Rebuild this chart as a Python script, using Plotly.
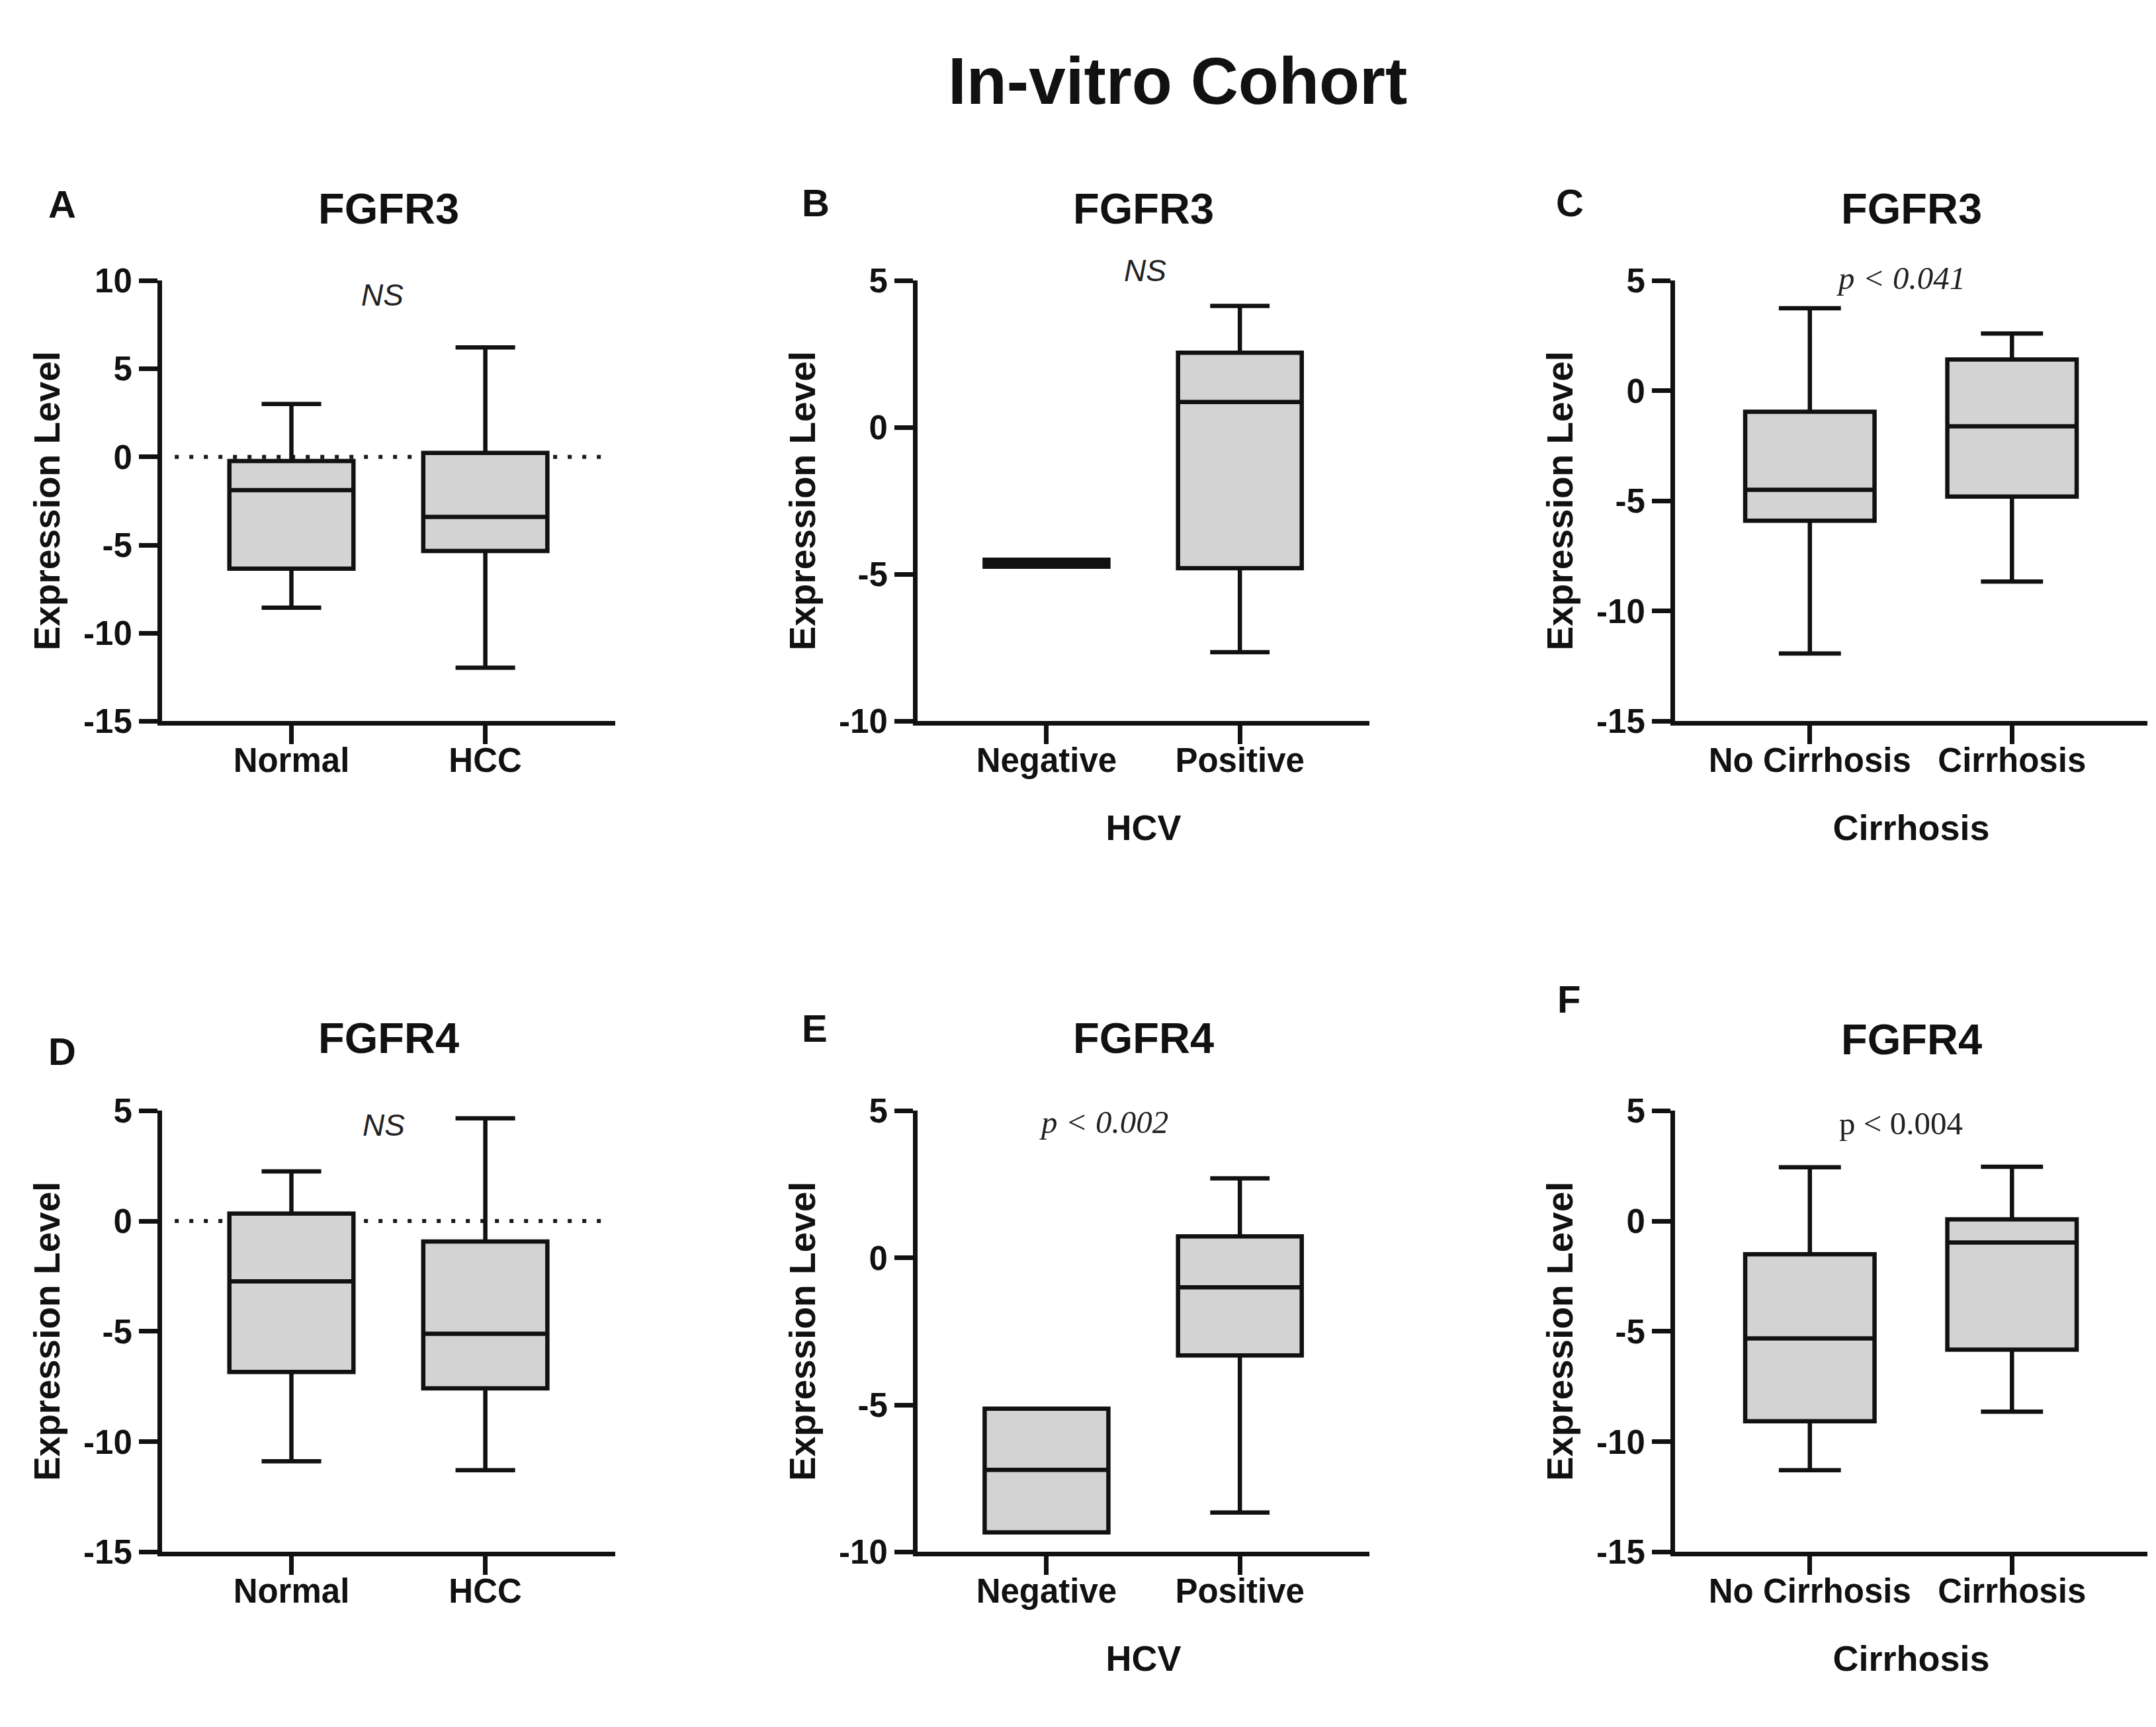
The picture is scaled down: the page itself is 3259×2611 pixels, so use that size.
import plotly.graph_objects as go
from plotly.subplots import make_subplots

W, H = 3259, 2611

# categories
tissue = ["Normal", "HCC"]
hcv = ["Negative", "Positive"]
cirrhosis = ["No Cirrhosis", "Cirrhosis"]

# box stats: low whisker, Q1, median, Q3, high whisker
a_low = [-8.56, -11.96]
a_q1 = [-6.34, -5.34]
a_med = [-1.88, -3.40]
a_q3 = [-0.23, 0.23]
a_high = [3.00, 6.21]

b_low = [-4.74, -7.65]
b_q1 = [-4.74, -4.79]
b_med = [-4.62, 0.87]
b_q3 = [-4.50, 2.55]
b_high = [-4.50, 4.14]

c_low = [-11.92, -8.66]
c_q1 = [-5.90, -4.80]
c_med = [-4.49, -1.61]
c_q3 = [-0.95, 1.42]
c_high = [3.75, 2.60]

d_low = [-10.89, -11.29]
d_q1 = [-6.84, -7.58]
d_med = [-2.73, -5.11]
d_q3 = [0.34, -0.93]
d_high = [2.25, 4.66]

e_low = [-9.33, -8.66]
e_q1 = [-9.33, -3.32]
e_med = [-7.21, -1.00]
e_q3 = [-5.13, 0.73]
e_high = [-5.13, 2.70]

f_low = [-11.29, -8.64]
f_q1 = [-9.07, -5.83]
f_med = [-5.32, -0.97]
f_q3 = [-1.50, 0.08]
f_high = [2.44, 2.46]

y_ranges = [[-15, 10], [-10, 5], [-15, 5], [-15, 5], [-10, 5], [-15, 5]]
panel_letters = ["A", "B", "C", "D", "E", "F"]
panel_genes = ["FGFR3", "FGFR3", "FGFR3", "FGFR4", "FGFR4", "FGFR4"]
x_titles = ["", "HCV", "Cirrhosis", "", "HCV", "Cirrhosis"]
y_title = "Expression Level"
stat_labels = ["NS", "NS", "p < 0.041", "NS", "p < 0.002", "p < 0.004"]
ref_zero = 0

panels = [
    (tissue, a_low, a_q1, a_med, a_q3, a_high),
    (hcv, b_low, b_q1, b_med, b_q3, b_high),
    (cirrhosis, c_low, c_q1, c_med, c_q3, c_high),
    (tissue, d_low, d_q1, d_med, d_q3, d_high),
    (hcv, e_low, e_q1, e_med, e_q3, e_high),
    (cirrhosis, f_low, f_q1, f_med, f_q3, f_high),
]

SANS = "Liberation Sans, Arial, sans-serif"
SERIF = "Liberation Serif, Times New Roman, serif"
INK = "#111111"

# plot areas in pixels
col_px = [(237, 922), (1379, 2062), (2524, 3238)]
row_px = [(397, 1078), (1680, 2362)]


def px(x):
    return x / W


def py(y):
    return 1 - y / H


fig = make_subplots(rows=2, cols=3)

for i, (cats, lo, q1, med, q3, hi) in enumerate(panels):
    r, c = i // 3 + 1, i % 3 + 1
    fig.add_trace(go.Box(
        x=cats, lowerfence=lo, q1=q1, median=med, q3=q3, upperfence=hi,
        width=0.64, whiskerwidth=0.48, fillcolor="#d3d3d3",
        line=dict(color=INK, width=6.5), boxpoints=False,
        showlegend=False, hoverinfo="skip"), row=r, col=c)
    x0, x1 = col_px[c - 1]
    y0, y1 = row_px[r - 1]
    lo_r, hi_r = y_ranges[i]
    tv = list(range(lo_r, hi_r + 1, 5))
    fig.update_xaxes(domain=[px(x0), px(x1)], type="category",
                     categoryorder="array", categoryarray=cats,
                     range=[-0.667, 1.67], showline=True, linewidth=7,
                     linecolor=INK, ticks="outside", ticklen=28,
                     tickwidth=7, tickcolor=INK, showgrid=False,
                     zeroline=False, ticklabelstandoff=-20,
                     tickfont=dict(family=SANS, size=51, color=INK, weight="bold"),
                     title=dict(text=x_titles[i], standoff=58,
                                font=dict(family=SANS, size=54, color=INK, weight="bold")),
                     row=r, col=c)
    fig.update_yaxes(domain=[py(y1), py(y0)], range=y_ranges[i],
                     tickvals=tv, ticktext=[str(v) for v in tv],
                     showline=True, linewidth=7, linecolor=INK,
                     ticks="outside", ticklen=28, tickwidth=7,
                     tickcolor=INK, showgrid=False, zeroline=False,
                     tickfont=dict(family=SANS, size=51, color=INK, weight="bold"),
                     row=r, col=c)

# dotted reference line at zero in the Normal vs HCC panels
for ax in ["", "4"]:
    fig.add_shape(type="line", xref="x" + ax + " domain", yref="y" + ax,
                  x0=0.028, x1=0.99, y0=ref_zero, y1=ref_zero, layer="below",
                  line=dict(color="#1a1a1a", width=6, dash="6px,16px"))

annotations = []
annotations.append(dict(text="<b>In-vitro Cohort</b>", x=px(1772), y=py(88),
                        font=dict(family=SANS, size=100, color=INK)))

letter_pos = [(86, 279), (1225, 277), (2365, 277), (86, 1588), (1223, 1552), (2363, 1507)]
gene_y = [286, 286, 286, 1568, 1568, 1570]
stat_pos = [(570, 419), (1723, 381), (2865, 393), (572, 1702), (1660, 1698), (2865, 1700)]

for i in range(6):
    r, c = i // 3, i % 3
    lx, ly = letter_pos[i]
    annotations.append(dict(text="<b>" + panel_letters[i] + "</b>", x=px(lx), y=py(ly),
                            font=dict(family=SANS, size=58, color=INK)))
    cx = (col_px[c][0] + col_px[c][1]) / 2
    annotations.append(dict(text="<b>" + panel_genes[i] + "</b>", x=px(cx), y=py(gene_y[i]),
                            font=dict(family=SANS, size=65, color=INK)))
    # y axis title, placed at a fixed distance left of the axis line
    cy = (row_px[r][0] + row_px[r][1]) / 2
    annotations.append(dict(text="<b>" + y_title + "</b>", x=px(col_px[c][0] - 174), y=py(cy),
                            textangle=-90, font=dict(family=SANS, size=55, color=INK)))
    sx, sy = stat_pos[i]
    label = stat_labels[i]
    if label == "NS":
        fnt = dict(family=SANS, size=46, color="#222222")
        label = "<i>" + label + "</i>"
    elif i == 5:
        fnt = dict(family=SERIF, size=49, color="#222222")
    else:
        fnt = dict(family=SERIF, size=49, color="#222222")
        label = "<i>" + label + "</i>"
    annotations.append(dict(text=label, x=px(sx), y=py(sy), font=fnt))

for a in annotations:
    a.update(xref="paper", yref="paper", showarrow=False, xanchor="center", yanchor="middle")

fig.update_layout(width=W, height=H, margin=dict(l=0, r=0, t=0, b=0),
                  paper_bgcolor="white", plot_bgcolor="white",
                  annotations=annotations, font=dict(family=SANS))

fig.write_html("out.html")
